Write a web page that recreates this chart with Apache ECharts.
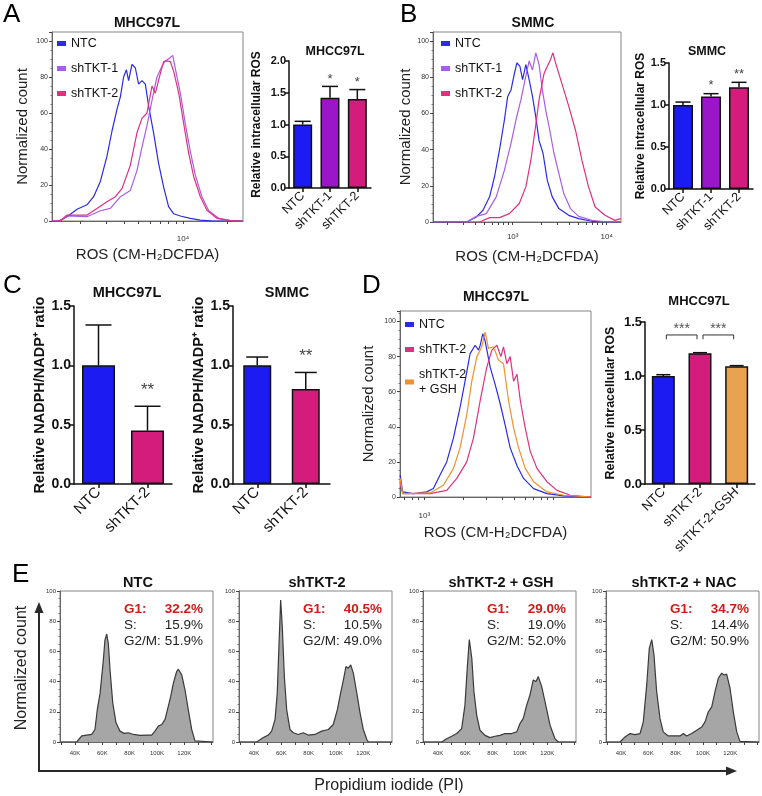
<!DOCTYPE html>
<html>
<head>
<meta charset="utf-8">
<script src="https://cdn.jsdelivr.net/npm/echarts@6/dist/echarts.min.js"></script>
<style>
  html, body { margin: 0; padding: 0; background: #fff; }
  #fig { width: 762px; height: 796px; }
</style>
</head>
<body>
<div id="fig"></div>
<script>
const FONT = 'Liberation Sans, Arial, Helvetica, sans-serif'

// colours
const BLUE = '#1c1cf2', PURPLE = '#9a16c9', PINK = '#d31c7b', ORANGE = '#e9a24f'
const L_BLUE = '#2b2be4', L_PURPLE = '#a95de6', L_PINK = '#e0307e', L_ORANGE = '#f0902f'

// ---- A: ROS histograms, MHCC97L  [CM-H2DCFDA intensity, normalized count]
const rosA_NTC = [[1290,0],[1426,0],[1626,2.4],[1901,6.5],[2223,9],[2466,13.5],[2741,22],[3041,36],[3289,50],[3556,62],[3750,69],[3945,80],[4121,84],[4266,78],[4498,87],[4742,85],[4989,76],[5260,78],[5546,76],[5834,64],[6310,49],[6823,32],[7379,19],[7980,8],[8650,4],[9594,2.8],[11220,1.5],[13122,0.5],[16180,0],[25500,0]]
const rosA_sh1 = [[1290,0],[1465,0],[1626,2.8],[2223,2.4],[2741,5.7],[3206,7],[3750,13.5],[4385,17],[4863,28],[5260,41],[5689,53],[6152,67],[6653,80],[7194,86],[7586,89],[7980,90],[8511,92],[8954,83],[9594,71],[10375,54],[11220,38.5],[12134,25.5],[13459,13.5],[14962,5.7],[17498,1.5],[22131,0],[25500,0]]
const rosA_sh2 = [[1290,0],[1465,0],[1626,3.3],[1901,3.3],[2223,3.3],[2600,7],[3041,10.7],[3467,13.5],[3846,18],[4385,31],[4863,49],[5260,57],[5689,60],[6152,75],[6486,71],[7015,82],[7379,88.5],[7780,89],[8204,88.5],[8650,83],[9354,71],[10116,54],[10938,37.6],[11830,24.6],[13122,13.5],[14555,6],[17022,1.5],[20989,0.2],[25500,0]]

// ---- B: ROS histograms, SMMC
const rosB_NTC = [[145,0],[323,0],[411,2.8],[483,6.5],[568,13.9],[641,25],[724,39.8],[817,56.5],[885,69.4],[960,73],[1042,82],[1111,88],[1194,86],[1274,78.7],[1380,87],[1497,78.7],[1624,69.4],[1762,58],[1909,45],[2103,38],[2335,23],[2636,13.9],[3097,7.4],[3945,3.7],[5035,1.9],[6950,0.4],[11290,0],[14150,0]]
const rosB_sh1 = [[145,0],[323,0],[411,3.1],[524,4.6],[668,13.9],[817,28.7],[960,43.5],[1084,56.5],[1224,67.6],[1380,80.6],[1497,89],[1624,84],[1762,93.5],[1909,87],[2069,73],[2244,62],[2472,51],[2748,38],[3097,26.9],[3499,15.7],[4111,7.4],[5035,3.1],[6950,0.9],[10423,0],[14150,0]]
const rosB_sh2 = [[145,0],[446,0],[568,2.4],[724,2.4],[922,4.6],[1175,10.2],[1380,19.4],[1560,34],[1733,51],[1909,67.6],[2155,82],[2335,86],[2535,90],[2679,93.5],[2858,88],[3097,82],[3499,73],[3945,64],[4645,51],[5458,34],[6412,19.4],[7535,8.3],[9594,3.7],[12246,0.9],[14150,1.9]]

// ---- D: ROS histograms, MHCC97L with GSH rescue
const rosD_NTC = [[650,12.5],[679,2.9],[822,1.9],[1042,2.9],[1175,4.8],[1322,12.5],[1489,20],[1679,33.7],[1888,51],[2065,66],[2259,81.7],[2472,86.5],[2624,83.7],[2704,86.5],[2831,93],[2951,89],[3228,74],[3532,64],[3864,53],[4217,41],[4613,28],[5200,18],[5848,10.6],[6998,4.8],[8872,1.9],[11967,0.6],[19400,0]]
const rosD_sh2 = [[650,8.7],[679,1.9],[1107,1.9],[1489,3.8],[1782,10.6],[2128,20],[2399,33.7],[2704,55],[3041,74],[3327,83.7],[3639,86.5],[3908,80],[4093,85.6],[4345,76],[4613,80],[4898,66],[5200,70],[5521,55],[6026,39.4],[6592,26],[7430,16.3],[8872,8.7],[10617,3.8],[13459,1],[19400,0]]
const rosD_gsh = [[650,10.6],[679,1.9],[1107,2.3],[1403,6.7],[1679,16.3],[1888,28],[2128,47],[2328,66],[2547,80],[2780,85.6],[2951,94],[3133,84.6],[3428,85.6],[3750,78],[4093,76],[4477,55],[4898,39.4],[5358,28],[6026,16.3],[6998,8.7],[8872,2.9],[11967,1],[19400,0]]

// log-axis ticks / labels
const ticksA = [2000,3000,4000,5000,6000,7000,8000,9000,10000,20000]
const ticksB = [200,300,400,500,600,700,800,900,1000,2000,3000,4000,5000,6000,7000,8000,9000,10000]
const ticksD = [700,800,900,1000,2000,3000,4000,5000,6000,7000,8000,9000,10000]
const labelsA = [10000], labelsB = [1000, 10000], labelsD = [1000]
const countTicks = [0, 20, 40, 60, 80, 100]

// ---- bar charts
const catsAB = ['NTC', 'shTKT-1', 'shTKT-2']
const rosA = [1.0, 1.42, 1.40]
const errA = [0.05, 0.18, 0.15]
const sigA = ['', '*', '*']
const rosB = [1.0, 1.10, 1.21]
const errB = [0.035, 0.035, 0.06]
const sigB = ['', '*', '**']

const catsC = ['NTC', 'shTKT-2']
const nadphM = [1.0, 0.45]
const errNadphM = [0.34, 0.205]
const sigNadphM = ['', '**']
const nadphS = [1.0, 0.80]
const errNadphS = [0.07, 0.14]
const sigNadphS = ['', '**']

const catsD = ['NTC', 'shTKT-2', 'shTKT-2+GSH']
const rosD = [1.0, 1.21, 1.09]
const errD = [0.012, 0.006, 0.006]
const compD = [[0, 1], [1, 2]]
const compLabelD = ['***', '***']
const compLevelD = [1.38, 1.34] // bracket top, bracket foot

// ---- E: PI cell cycle histograms [PI (K), normalized count]
const kTicks = [30,40,50,60,70,80,90,100,110,120,130,140]
const kLabels = [40, 60, 80, 100, 120]
const piNTC = [[29,0],[41.2,0],[44.9,4],[48.5,4.6],[52.2,5],[54.6,8.3],[56.3,21.5],[58.3,32],[60.7,54],[61.9,67.5],[63.2,71.5],[64.4,65],[65.6,48],[67.6,26],[70,12.7],[72.9,7.2],[75.9,5.7],[79,6.1],[82.7,5],[87.6,4.4],[92.5,4.6],[96.1,4.6],[98.5,7.2],[101,10.5],[103.5,11.6],[105.9,15],[108.3,23.7],[110,30],[112,39],[114.4,46.7],[115.6,48.2],[118.1,44.5],[120.5,34.6],[122.9,21.5],[125.4,8.3],[127.8,0.7],[129.1,0],[141,0]]
const piSh2 = [[29,0],[41.9,0],[46.8,2.9],[50.5,4.6],[52.9,7.2],[55.4,15],[57,32.5],[58.3,65],[59.5,94],[60.7,76],[62.2,43.4],[63.9,21.5],[66.3,8.3],[68.8,6.1],[72.4,5],[76.1,6.1],[79.7,4.6],[84.6,5],[89.5,7.2],[94.4,8.3],[98,11.6],[101,21.5],[103.4,32.5],[105.4,41],[107.3,50],[109,48.9],[110.8,51],[112.7,45.6],[115.2,32.5],[117.6,19.3],[120,8.3],[122.5,1.8],[123.7,0],[141,0]]
const piGSH = [[29,0],[42.7,0],[46.3,2.2],[50,3.8],[53.7,5.6],[57.3,8.9],[59.7,24.4],[61.4,48.9],[62.9,67.8],[64.7,55.6],[66.3,33.3],[68.3,17.8],[70.7,7.8],[74.4,4.4],[78,2.9],[81.7,3.8],[85.4,4.4],[89,5.6],[93.9,5.6],[97.6,6.7],[100,12.2],[102.4,15.6],[104.9,24.4],[107.3,31.1],[109.7,41.1],[111.7,40],[113.4,43.3],[115.9,36.7],[118.3,26.7],[122,11.1],[125.6,2.2],[128,0],[141,0]]
const piNAC = [[29,0],[39.2,0],[42.9,3.3],[46.6,5.6],[50.2,4.9],[53.9,5.6],[56.3,13.3],[58.8,37.8],[60.7,62.2],[62.5,67.8],[64.1,57.8],[66.1,33.3],[68.5,15.6],[70.9,6.7],[74.6,4],[79.5,4],[83.2,4],[85.6,5.6],[88,4],[91.7,5.6],[95.4,7.8],[99.1,10],[101.5,13.3],[103.9,20],[106.4,23.3],[108.8,33.3],[111.2,42.2],[113.7,45.6],[115.4,44.4],[117.3,44.9],[119.8,35.6],[122.2,20],[124.7,6.7],[127.1,0.4],[128.3,0],[141,0]]
const namesE = ['NTC', 'shTKT-2', 'shTKT-2 + GSH', 'shTKT-2 + NAC']
const g1E = [32.2, 40.5, 29.0, 34.7]
const sE = [15.9, 10.5, 19.0, 14.4]
const g2mE = [51.9, 49.0, 52.0, 50.9]

// ---------------------------------------------------------------
const SUP = { 2: '\u00b2', 3: '\u00b3', 4: '\u2074' }
const eLeft = [60, 239, 423, 606]

const grids = [
  { left: 52, top: 32, width: 191, height: 189, show: true },   // 0 A hist
  { left: 289, top: 61, width: 82, height: 127 },                // 1 A bar
  { left: 433, top: 32, width: 188, height: 190, show: true },  // 2 B hist
  { left: 669, top: 63, width: 84, height: 126 },                // 3 B bar
  { left: 74, top: 306, width: 98, height: 178 },                // 4 C left
  { left: 233, top: 306, width: 97, height: 178 },               // 5 C right
  { left: 400, top: 311, width: 191, height: 186, show: true }, // 6 D hist
  { left: 645, top: 322, width: 110, height: 162 },              // 7 D bar
]
eLeft.forEach(l => grids.push({ left: l, top: 591, width: 153, height: 151, show: true }))
grids.forEach(g => { if (g.show) { g.borderColor = '#858585'; g.borderWidth = 1; g.backgroundColor = 'transparent' } })

function histX(gi, min, max, ticks, labels, margin, gap) {
  return {
    type: 'log', logBase: 10, gridIndex: gi, min, max,
    axisLine: { show: true, lineStyle: { color: '#666', width: 1 } },
    axisTick: { show: true, length: 3, customValues: ticks, lineStyle: { color: '#444' } },
    axisLabel: {
      customValues: labels, margin, fontSize: 8, color: '#333', fontFamily: FONT,
      formatter: v => '10' + SUP[Math.round(Math.log10(v))],
    },
    splitLine: { show: false },
    name: 'ROS (CM-H\u2082DCFDA)', nameLocation: 'middle', nameGap: gap,
    nameTextStyle: { fontSize: 15, color: '#222', fontFamily: FONT },
  }
}

function histY(gi, max, fs, name, gap) {
  return {
    type: 'value', gridIndex: gi, min: 0, max, interval: 20,
    axisLine: { show: true, lineStyle: { color: '#666' } },
    axisTick: { show: true, length: 3, lineStyle: { color: '#444' } },
    minorTick: { show: true, splitNumber: 4, length: 1.5, lineStyle: { color: '#777' } },
    axisLabel: { customValues: countTicks, fontSize: fs, color: '#333', margin: 4, fontFamily: FONT },
    splitLine: { show: false },
    name, nameLocation: 'middle', nameGap: gap,
    nameTextStyle: { fontSize: 15, color: '#222', fontFamily: FONT },
  }
}

function barX(gi, cats, fs) {
  return {
    type: 'category', gridIndex: gi, data: cats,
    axisLine: { show: true, lineStyle: { color: '#111', width: 1.5 } },
    axisTick: { show: true, alignWithLabel: true, length: 4, lineStyle: { color: '#111', width: 1.5 } },
    axisLabel: { rotate: 45, interval: 0, fontSize: fs, color: '#111', margin: 6, fontFamily: FONT },
    splitLine: { show: false },
  }
}

function barY(gi, max, lblSize, name, nameSize, gap) {
  return {
    type: 'value', gridIndex: gi, min: 0, max, interval: 0.5,
    axisLine: { show: true, lineStyle: { color: '#111', width: 1.5 } },
    axisTick: { show: true, length: 4, lineStyle: { color: '#111', width: 1.5 } },
    axisLabel: { fontSize: lblSize, fontWeight: 'bold', color: '#111', margin: 3, fontFamily: FONT, formatter: v => v.toFixed(1) },
    splitLine: { show: false },
    name, nameLocation: 'middle', nameGap: gap,
    nameTextStyle: { fontSize: nameSize, fontWeight: 'bold', color: '#111', fontFamily: FONT },
  }
}

function histLine(gi, name, data, color) {
  return {
    type: 'line', name, xAxisIndex: gi, yAxisIndex: gi, data, color,
    showSymbol: false, symbol: 'none', clip: true, silent: true,
    lineStyle: { color, width: 1.2 }, itemStyle: { color }, z: 3,
  }
}

function piArea(gi, data) {
  return {
    type: 'line', xAxisIndex: gi, yAxisIndex: gi, data, symbol: 'none', clip: true, silent: true,
    lineStyle: { color: '#3a3a3a', width: 1.2 }, areaStyle: { color: '#a6a6a6', opacity: 1 }, z: 3,
  }
}

function bars(gi, vals, colors, w) {
  return {
    type: 'bar', xAxisIndex: gi, yAxisIndex: gi, barWidth: w, silent: true, z: 3,
    itemStyle: { borderColor: '#111', borderWidth: 1.5 },
    data: vals.map((v, i) => ({ value: v, itemStyle: { color: colors[i], borderColor: '#111', borderWidth: 1.5 } })),
  }
}

// upper error bar + significance stars
function errBars(gi, vals, errs, sig, capHalf, starSize, starLift) {
  return {
    type: 'custom', xAxisIndex: gi, yAxisIndex: gi, z: 4, silent: true,
    data: vals.map((v, i) => [i, v, v + errs[i]]),
    renderItem(params, api) {
      const i = api.value(0)
      const base = api.coord([i, api.value(1)])
      const top = api.coord([i, api.value(2)])
      const st = { stroke: '#111', lineWidth: 1.5 }
      const kids = [
        { type: 'line', shape: { x1: top[0], y1: base[1], x2: top[0], y2: top[1] }, style: st },
        { type: 'line', shape: { x1: top[0] - capHalf, y1: top[1], x2: top[0] + capHalf, y2: top[1] }, style: st },
      ]
      const mark = sig[params.dataIndex]
      if (mark) {
        kids.push({ type: 'text', x: top[0], y: top[1] - starLift,
          style: { text: mark, fill: '#444', fontSize: starSize, fontFamily: FONT, align: 'center', verticalAlign: 'middle' } })
      }
      return { type: 'group', children: kids }
    },
  }
}

// comparison brackets for D
function brackets(gi) {
  return {
    type: 'custom', xAxisIndex: gi, yAxisIndex: gi, z: 4, silent: true,
    data: compD.map(p => [p[0], p[1], compLevelD[0], compLevelD[1]]),
    renderItem(params, api) {
      const a = api.coord([api.value(0), api.value(2)])
      const b = api.coord([api.value(1), api.value(2)])
      const foot = api.coord([api.value(0), api.value(3)])[1]
      const x1 = a[0] + 3, x2 = b[0] - 3
      return {
        type: 'group', children: [
          { type: 'polyline', shape: { points: [[x1, foot], [x1, a[1]], [x2, a[1]], [x2, foot]] }, style: { stroke: '#333', lineWidth: 1, fill: null } },
          { type: 'text', x: (x1 + x2) / 2, y: a[1] - 6,
            style: { text: compLabelD[params.dataIndex], fill: '#555', fontSize: 14, fontFamily: FONT, align: 'center', verticalAlign: 'middle' } },
        ],
      }
    },
  }
}

const xAxis = [
  histX(0, 1285, 25600, ticksA, labelsA, 14, 26),
  barX(1, catsAB, 12.5),
  histX(2, 142, 14200, ticksB, labelsB, 11, 27),
  barX(3, catsAB, 12.5),
  barX(4, catsC, 15),
  barX(5, catsC, 15),
  histX(6, 648, 19450, ticksD, labelsD, 15, 28),
  barX(7, catsD, 13),
]
const yAxis = [
  histY(0, 105, 7, 'Normalized count', 22),
  barY(1, 2.0, 11, 'Relative intracellular ROS', 12, 26),
  histY(2, 105, 7, 'Normalized count', 19),
  barY(3, 1.5, 11, 'Relative intracellular ROS', 12, 17),
  barY(4, 1.5, 14, 'Relative NADPH/NADP\u207a ratio', 14.5, 22),
  barY(5, 1.5, 14, 'Relative NADPH/NADP\u207a ratio', 14.5, 21),
  histY(6, 106, 7, 'Normalized count', 24),
  barY(7, 1.5, 13, 'Relative intracellular ROS', 12.5, 28),
]
eLeft.forEach((l, k) => {
  const gi = 8 + k
  xAxis.push({
    type: 'value', gridIndex: gi, min: 29, max: 141,
    axisLine: { show: true, lineStyle: { color: '#666' } },
    axisTick: { show: true, length: 3, customValues: kTicks, lineStyle: { color: '#444' } },
    axisLabel: { customValues: kLabels, formatter: v => v + 'K', fontSize: 6, color: '#333', margin: 8, fontFamily: FONT },
    splitLine: { show: false },
  })
  yAxis.push(histY(gi, 100, 6, null, 0))
})

const series = [
  histLine(0, 'NTC', rosA_NTC, L_BLUE),
  histLine(0, 'shTKT-1', rosA_sh1, L_PURPLE),
  histLine(0, 'shTKT-2', rosA_sh2, L_PINK),
  bars(1, rosA, [BLUE, PURPLE, PINK], 19),
  errBars(1, rosA, errA, sigA, 8, 13, 7),
  histLine(2, 'NTC', rosB_NTC, L_BLUE),
  histLine(2, 'shTKT-1', rosB_sh1, L_PURPLE),
  histLine(2, 'shTKT-2', rosB_sh2, L_PINK),
  bars(3, rosB, [BLUE, PURPLE, PINK], 20),
  errBars(3, rosB, errB, sigB, 7.5, 13, 8),
  bars(4, nadphM, [BLUE, PINK], 33),
  errBars(4, nadphM, errNadphM, sigNadphM, 13, 17, 16),
  bars(5, nadphS, [BLUE, PINK], 28),
  errBars(5, nadphS, errNadphS, sigNadphS, 11, 17, 16),
  histLine(6, 'NTC', rosD_NTC, L_BLUE),
  histLine(6, 'shTKT-2', rosD_sh2, L_PINK),
  histLine(6, 'shTKT-2 + GSH', rosD_gsh, L_ORANGE),
  bars(7, rosD, [BLUE, PINK, ORANGE], 23),
  errBars(7, rosD, errD, ['', '', ''], 7, 12, 6),
  brackets(7),
  piArea(8, piNTC), piArea(9, piSh2), piArea(10, piGSH), piArea(11, piNAC),
]

function legendAt(left, top, names) {
  return {
    left, top, orient: 'vertical', icon: 'rect', itemWidth: 9, itemHeight: 5, itemGap: 10,
    selectedMode: false, padding: 0, data: names,
    formatter: n => n === 'shTKT-2 + GSH' ? 'shTKT-2\n+ GSH' : n,
    textStyle: { fontSize: 12.5, color: '#111', fontFamily: FONT, lineHeight: 15 },
  }
}

// ---- free text: panel letters, titles, cell-cycle stats, arrows
const graphic = []
function txt(text, x, y, size, opts) {
  graphic.push({ type: 'text', x, y, silent: true, rotation: (opts && opts.rot) || 0,
    style: Object.assign({ text, fontSize: size, fontFamily: FONT, fill: '#111', align: 'center', verticalAlign: 'middle' }, opts && opts.style) })
}
const bold = { style: { fontWeight: 'bold' } }
;[['A', 3, 2], ['B', 400, 2], ['C', 3, 273], ['D', 362, 273], ['E', 12, 562]].forEach(p =>
  txt(p[0], p[1], p[2], 26, { style: { align: 'left', verticalAlign: 'top', fill: '#000' } }))
txt('MHCC97L', 147, 23, 14, bold)
txt('MHCC97L', 335, 52, 12.5, bold)
txt('SMMC', 533, 23, 14, bold)
txt('SMMC', 707, 52, 12.5, bold)
txt('MHCC97L', 127, 293, 14.5, bold)
txt('SMMC', 287, 293, 14.5, bold)
txt('MHCC97L', 496, 297, 14, bold)
txt('MHCC97L', 699, 301, 13, bold)

const RED = '#d11a1a'
eLeft.forEach((l, k) => {
  txt(namesE[k], l + 78, 583, 14.5, bold)
  const x0 = l + 64, x1 = l + 143
  txt('G1:', x0, 609, 13.5, { style: { align: 'left', fontWeight: 'bold', fill: RED } })
  txt(g1E[k].toFixed(1) + '%', x1, 609, 13.5, { style: { align: 'right', fontWeight: 'bold', fill: RED } })
  txt('S:', x0, 625, 13.5, { style: { align: 'left', fill: '#222' } })
  txt(sE[k].toFixed(1) + '%', x1, 625, 13.5, { style: { align: 'right', fill: '#222' } })
  txt('G2/M:', x0, 641, 13.5, { style: { align: 'left', fill: '#222' } })
  txt(g2mE[k].toFixed(1) + '%', x1, 641, 13.5, { style: { align: 'right', fill: '#222' } })
})
txt('Normalized count', 22, 668, 16, { rot: Math.PI / 2, style: { fill: '#222' } })
txt('Propidium iodide (PI)', 389, 786, 16, { style: { fill: '#222' } })

graphic.push(
  { type: 'line', silent: true, shape: { x1: 39, y1: 771, x2: 39, y2: 611 }, style: { stroke: '#2a2a2a', lineWidth: 2 } },
  { type: 'polygon', silent: true, shape: { points: [[39, 602], [34.5, 613], [43.5, 613]] }, style: { fill: '#2a2a2a' } },
  { type: 'line', silent: true, shape: { x1: 38, y1: 771, x2: 727, y2: 771 }, style: { stroke: '#2a2a2a', lineWidth: 2 } },
  { type: 'polygon', silent: true, shape: { points: [[737, 771], [726, 766.5], [726, 775.5]] }, style: { fill: '#2a2a2a' } },
)

const chart = echarts.init(document.getElementById('fig'), null, { renderer: 'canvas' })
chart.setOption({
  animation: false,
  backgroundColor: '#fff',
  textStyle: { fontFamily: FONT },
  grid: grids,
  xAxis,
  yAxis,
  legend: [
    legendAt(57, 36, ['NTC', 'shTKT-1', 'shTKT-2']),
    legendAt(441, 36, ['NTC', 'shTKT-1', 'shTKT-2']),
    legendAt(405, 317, ['NTC', 'shTKT-2', 'shTKT-2 + GSH']),
  ],
  series,
  graphic,
})
</script>
</body>
</html>
